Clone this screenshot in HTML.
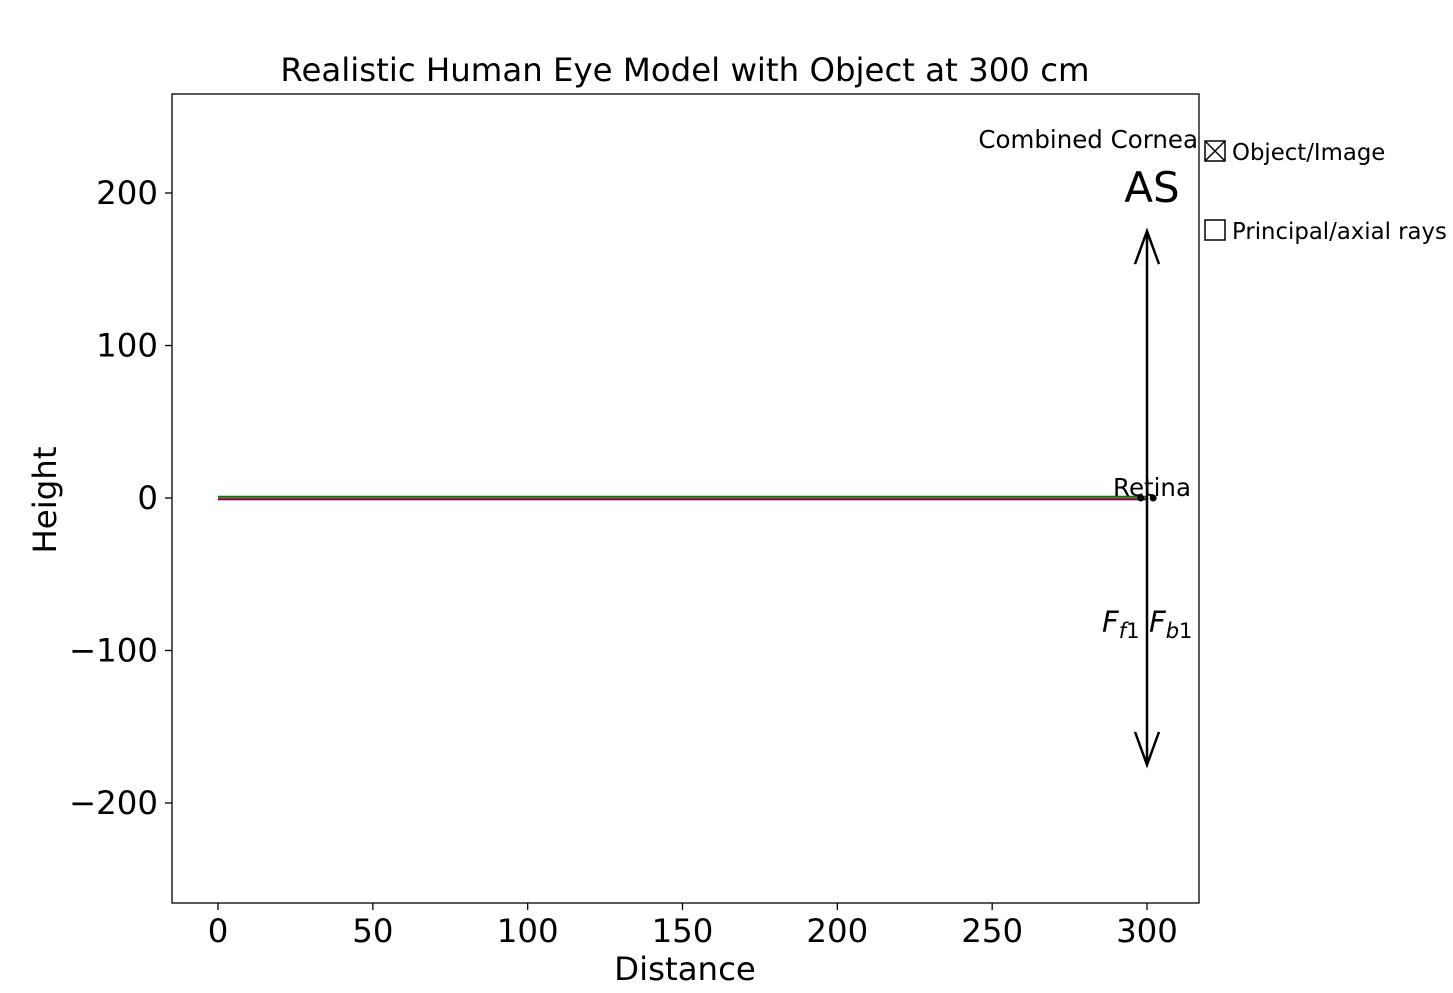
<!DOCTYPE html>
<html><head><meta charset="utf-8"><style>
body{margin:0;background:#fff;}
svg text{font-family:"DejaVu Sans","Liberation Sans",sans-serif;}
</style></head><body>
<svg width="1453" height="988" xmlns="http://www.w3.org/2000/svg">
<g id="plot"></g>
<rect x="172" y="94" width="1027" height="809" fill="none" stroke="#000" stroke-width="1.3"/>
<text x="685" y="81" font-size="32.4" text-anchor="middle">Realistic Human Eye Model with Object at 300 cm</text>
<text x="685" y="980" font-size="32.4" text-anchor="middle">Distance</text>
<text x="56" y="500" font-size="32.4" text-anchor="middle" transform="rotate(-90 56 500)">Height</text>
<g>
<rect x="1205" y="141" width="20" height="20" fill="none" stroke="#000" stroke-width="1.5"/>
<path d="M1205 141L1225 161M1225 141L1205 161" stroke="#000" stroke-width="1.5"/>
<text x="1232" y="160" font-size="22.8">Object/Image</text>
<rect x="1205" y="220" width="20" height="20" fill="none" stroke="#000" stroke-width="1.5"/>
<text x="1232" y="239" font-size="22.8">Principal/axial rays</text>
</g>
</svg>
<script>
const xTicks=[0,50,100,150,200,250,300];
const yTicks=[200,100,0,-100,-200];
const rayY=[1,0,-1];
const rayColors=['green','red','blue'];
const rayStart=0, rayEnd=300;
const lensX=300, lensHalf=175;
const retinaX=[298,302];
const X=v=>218+v*(1147-218)/300;
const Y=v=>498-v*(498-193)/200;
const NS='http://www.w3.org/2000/svg';
const g=document.getElementById('plot');
function mk(t,a,p){const e=document.createElementNS(NS,t);for(const k in a)e.setAttribute(k,a[k]);(p||g).appendChild(e);return e;}
xTicks.forEach(v=>{
 const l=mk('line',{x1:X(v),x2:X(v),y1:903,y2:910,stroke:'#000','stroke-width':1.3});
 
 
 const t=mk('text',{x:X(v),y:942,'font-size':32.4,'text-anchor':'middle'});t.textContent=v;
 
 
});
yTicks.forEach(v=>{
 const l=mk('line',{x1:165,x2:172,y1:Y(v),y2:Y(v),stroke:'#000','stroke-width':1.3});
 
 
 const t=mk('text',{x:158,y:Y(v)+11,'font-size':32.4,'text-anchor':'end'});t.textContent=(v<0?'\u2212'+(-v):v);
 
 
});
rayY.forEach((v,i)=>{
 const l=mk('line',{x1:X(rayStart),x2:X(rayEnd),y1:Y(v)*1,y2:Y(v),stroke:rayColors[i],'stroke-width':1.5});
 
 
});
const lx=X(lensX),yt=Y(lensHalf),yb=Y(-lensHalf);
const lens=mk('path',{d:`M${lx} ${yt}V${yb}M${lx-12} ${yt+33}L${lx} ${yt}L${lx+12} ${yt+33}M${lx-12} ${yb-33}L${lx} ${yb}L${lx+12} ${yb-33}`,stroke:'#000','stroke-width':2.5,fill:'none'});


retinaX.forEach(v=>{const c=mk('circle',{cx:X(v),cy:Y(0),r:3.5,fill:'#000'});
 
 });
function txt(x,y,s,str,anchor,name){const t=mk('text',{x,y,'font-size':s,'text-anchor':anchor||'start'});t.innerHTML=str;
 
 return t;}
txt(1198,148,24.5,'Combined Cornea','end','cornea-label');
txt(1152,202,42,'AS','middle','aperture-stop-label');
txt(1152,496,24.5,'Retina','middle','retina-label');
txt(1102,632,29,'<tspan font-style="italic">F</tspan><tspan font-size="21" dy="6" font-style="italic">f</tspan><tspan font-size="21">1</tspan>','start','front-focal-label');
txt(1149,632,29,'<tspan font-style="italic">F</tspan><tspan font-size="21" dy="6" font-style="italic">b</tspan><tspan font-size="21">1</tspan>','start','back-focal-label');
</script>
</body></html>
